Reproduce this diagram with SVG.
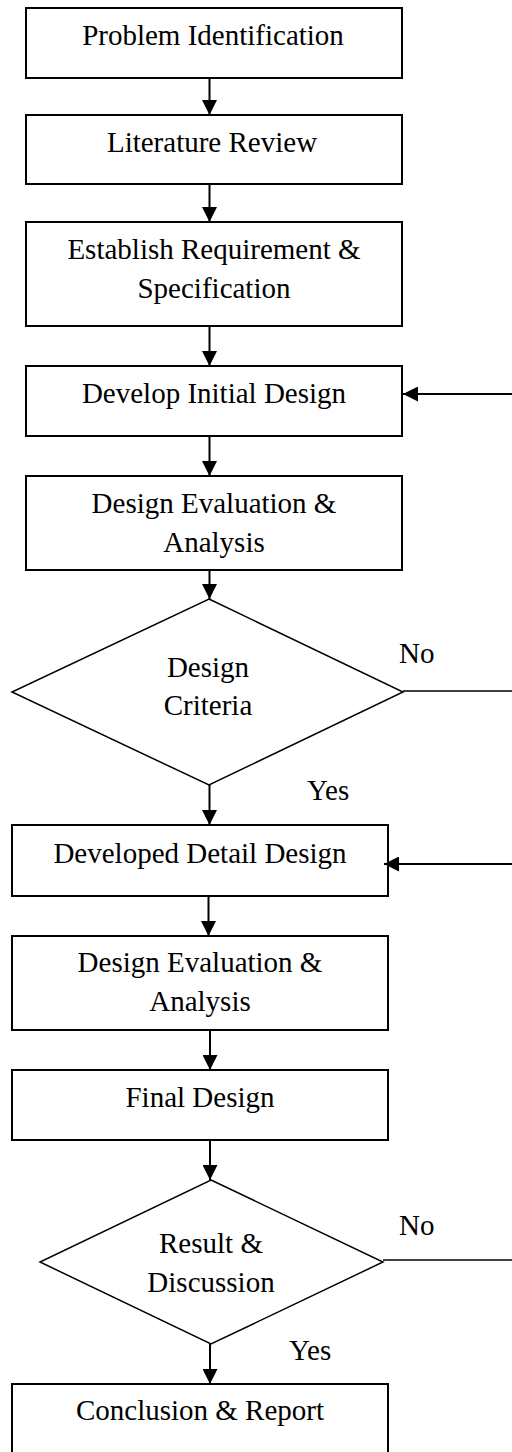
<svg xmlns="http://www.w3.org/2000/svg" width="512" height="1452" viewBox="0 0 512 1452">
  <style>
    .box { fill: #fff; stroke: #000; stroke-width: 2; }
    .dia { fill: #fff; stroke: #000; stroke-width: 1.5; }
    .lbl { font-family: "Liberation Serif", "Times New Roman", serif; font-size: 29px; fill: #000; text-anchor: middle; }
    .tag { font-family: "Liberation Serif", "Times New Roman", serif; font-size: 29px; fill: #000; }
    .edge { fill: none; stroke: #000; stroke-width: 2; }
    .loop { fill: none; stroke: #000; stroke-width: 1.6; }
  </style>
  <defs>
    <marker id="head" viewBox="0 0 15 15" refX="15" refY="7.5" markerWidth="15" markerHeight="15" markerUnits="userSpaceOnUse" orient="auto">
      <path d="M0,0 L15,7.5 L0,15 Z" fill="#000"/>
    </marker>
  </defs>

  <rect width="512" height="1452" fill="#fff"/>

  <g id="problem-identification">
    <rect class="box" x="26" y="8" width="376" height="70"/>
    <text class="lbl" x="213" y="45">Problem Identification</text>
  </g>

  <g id="literature-review">
    <rect class="box" x="26" y="115" width="376" height="69"/>
    <text class="lbl" x="212" y="152">Literature Review</text>
  </g>

  <g id="requirements">
    <rect class="box" x="26" y="222" width="376" height="104"/>
    <text class="lbl" x="214" y="259">Establish Requirement &amp;</text>
    <text class="lbl" x="214" y="298">Specification</text>
  </g>

  <g id="initial-design">
    <rect class="box" x="26" y="366" width="376" height="70"/>
    <text class="lbl" x="214" y="403">Develop Initial Design</text>
  </g>

  <g id="evaluation-1">
    <rect class="box" x="26" y="476" width="376" height="94"/>
    <text class="lbl" x="214" y="513">Design Evaluation &amp;</text>
    <text class="lbl" x="214" y="552">Analysis</text>
  </g>

  <g id="design-criteria">
    <polygon class="dia" points="209,599 403,692 209,785 12,692"/>
    <text class="lbl" x="208" y="677">Design</text>
    <text class="lbl" x="208" y="715">Criteria</text>
  </g>

  <g id="detail-design">
    <rect class="box" x="12" y="825" width="376" height="71"/>
    <text class="lbl" x="200" y="863">Developed Detail Design</text>
  </g>

  <g id="evaluation-2">
    <rect class="box" x="12" y="936" width="376" height="94"/>
    <text class="lbl" x="200" y="972">Design Evaluation &amp;</text>
    <text class="lbl" x="200" y="1011">Analysis</text>
  </g>

  <g id="final-design">
    <rect class="box" x="12" y="1070" width="376" height="70"/>
    <text class="lbl" x="200" y="1107">Final Design</text>
  </g>

  <g id="result-discussion">
    <polygon class="dia" points="211,1180 383,1262 211,1344 40,1262"/>
    <text class="lbl" x="211" y="1253">Result &amp;</text>
    <text class="lbl" x="211" y="1292">Discussion</text>
  </g>

  <g id="conclusion-report">
    <rect class="box" x="12" y="1384" width="376" height="80"/>
    <text class="lbl" x="200" y="1420">Conclusion &amp; Report</text>
  </g>

  <g id="connectors">
    <line class="edge" x1="209.5" y1="78" x2="209.5" y2="115" marker-end="url(#head)"/>
    <line class="edge" x1="209.5" y1="184" x2="209.5" y2="222" marker-end="url(#head)"/>
    <line class="edge" x1="209.5" y1="326" x2="209.5" y2="366" marker-end="url(#head)"/>
    <line class="edge" x1="209.5" y1="436" x2="209.5" y2="476" marker-end="url(#head)"/>
    <line class="edge" x1="209.5" y1="570" x2="209.5" y2="599" marker-end="url(#head)"/>
    <line class="edge" x1="209.5" y1="785" x2="209.5" y2="825" marker-end="url(#head)"/>
    <line class="edge" x1="208.5" y1="896" x2="208.5" y2="936" marker-end="url(#head)"/>
    <line class="edge" x1="210" y1="1030" x2="210" y2="1070" marker-end="url(#head)"/>
    <line class="edge" x1="210" y1="1140" x2="210" y2="1180" marker-end="url(#head)"/>
    <line class="edge" x1="210" y1="1344" x2="210" y2="1384" marker-end="url(#head)"/>

    <!-- rework loops entering from the right edge -->
    <line class="edge" x1="512" y1="394" x2="403" y2="394" marker-end="url(#head)"/>
    <line class="edge" x1="512" y1="864" x2="384" y2="864" marker-end="url(#head)"/>
    <line class="loop" x1="403" y1="691" x2="512" y2="691"/>
    <line class="loop" x1="383" y1="1260" x2="512" y2="1260"/>

    <text class="tag" x="399" y="663">No</text>
    <text class="tag" x="307" y="800">Yes</text>
    <text class="tag" x="399" y="1235">No</text>
    <text class="tag" x="289" y="1360">Yes</text>
  </g>
</svg>
